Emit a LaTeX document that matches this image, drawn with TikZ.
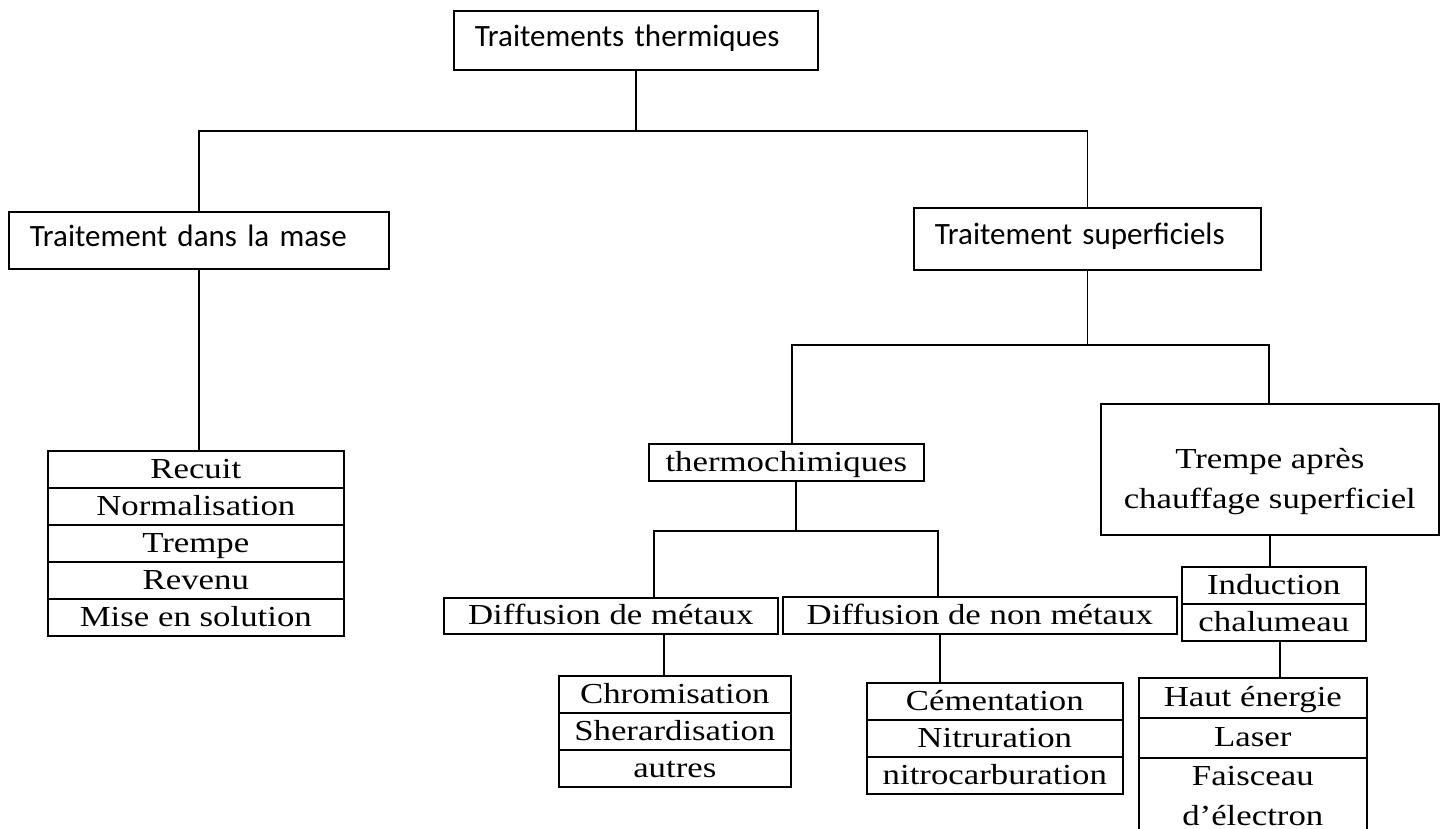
\documentclass[tikz,border=0pt]{standalone}
\usepackage{fontspec}
\newfontfamily\calfont{Carlito}
\newfontfamily\trmfont{Liberation Serif}[FakeStretch=1.2]
\begin{document}
\begin{tikzpicture}[x=1pt,y=-1pt,
  line width=1.6pt,
  headbox/.style={draw, anchor=north west, inner xsep=21pt, inner ysep=0pt,
    align=left, font=\calfont\fontsize{31}{36}\selectfont,
    text height=21pt, text depth=9pt},
  rowbase/.style={draw, anchor=north west, inner sep=0pt, align=center,
    font=\trmfont\fontsize{29}{37}\selectfont},
  rowbox/.style={rowbase, text height=23pt, text depth=5pt},
  wrap/.style={align=center, inner sep=0pt, font=\trmfont\fontsize{29}{40}\selectfont}
]
\useasboundingbox (0,0) rectangle (1448,828);

% --- top levels (sans serif boxes) ---
\node[headbox, text width=322pt, minimum height=59pt] (top) at (453,10) {Traitements thermiques};
\node[headbox, text width=338pt, minimum height=57pt] (mase) at (8,211) {Traitement dans la mase};
\node[headbox, text width=305pt, minimum height=62pt] (sup) at (913,207) {Traitement superficiels};

% --- bulk treatments ---
\node[rowbox, minimum width=296pt, minimum height=37pt] (r1) at (47,450) {Recuit};
\node[rowbox, minimum width=296pt, minimum height=37pt] (r2) at (47,487) {Normalisation};
\node[rowbox, minimum width=296pt, minimum height=37pt] (r3) at (47,524) {Trempe};
\node[rowbox, minimum width=296pt, minimum height=37pt] (r4) at (47,561) {Revenu};
\node[rowbox, minimum width=296pt, minimum height=37pt] (r5) at (47,598) {Mise en solution};

% --- surface treatments ---
\node[rowbox, minimum width=275pt, minimum height=37pt] (thermo) at (648,443) {thermochimiques};
\node[rowbase, minimum width=338pt, minimum height=131pt] (trempe) at (1100,403) {};
\node[wrap] (trempetxt) at ([yshift=-12.5pt]trempe.center) {Trempe après\\chauffage superficiel};

\node[rowbox, minimum width=334pt, minimum height=36pt] (dmet) at (443,597) {Diffusion de métaux};
\node[rowbox, minimum width=394pt, minimum height=37pt] (dnmet) at (782,596) {Diffusion de non métaux};

\node[rowbox, minimum width=232pt, minimum height=37pt] (ch1) at (558,675) {Chromisation};
\node[rowbox, minimum width=232pt, minimum height=37pt] (ch2) at (558,712) {Sherardisation};
\node[rowbox, minimum width=232pt, minimum height=37pt] (ch3) at (558,749) {autres};

\node[rowbox, minimum width=256pt, minimum height=37pt] (ce1) at (866,682) {Cémentation};
\node[rowbox, minimum width=256pt, minimum height=37pt] (ce2) at (866,719) {Nitruration};
\node[rowbox, minimum width=256pt, minimum height=37pt] (ce3) at (866,756) {nitrocarburation};

\node[rowbox, minimum width=184pt, minimum height=37pt] (in1) at (1181,566) {Induction};
\node[rowbox, minimum width=184pt, minimum height=37pt] (in2) at (1181,603) {chalumeau};

\node[rowbox, minimum width=228pt, minimum height=40pt] (he1) at (1138,677) {Haut énergie};
\node[rowbox, minimum width=228pt, minimum height=40pt] (he2) at (1138,717) {Laser};
\node[rowbase, minimum width=228pt, minimum height=82pt] (he3) at (1138,757) {};
\node[wrap] (he3txt) at ([yshift=3pt]he3.center) {Faisceau\\d’électron};

% --- junction points of the tree ---
\coordinate (bar1) at (0,131);
\coordinate (b2l) at (792,345);
\coordinate (b2r) at (1269,345);
\coordinate (b3m) at (796,531);
\coordinate (b3l) at (654,531);
\coordinate (b3r) at (938,531);
\coordinate (c5) at (664,0);
\coordinate (c6) at (940,0);
\coordinate (c8) at (1280,0);

% --- connectors ---
\draw (top.south) -- (top.south |- bar1);
\draw (mase.north) |- (sup.north |- bar1) -- (sup.north);
\draw (mase.south) -- (mase.south |- r1.north);

\draw (sup.south) -- (sup.south |- b2l);
\draw (b2l |- thermo.north) -- (b2l) -- (b2r) -- (b2r |- trempe.north);

\draw (b3m |- thermo.south) -- (b3m);
\draw (b3l |- dmet.north) -- (b3l) -- (b3r) -- (b3r |- dnmet.north);

\draw (c5 |- dmet.south) -- (c5 |- ch1.north);
\draw (c6 |- dnmet.south) -- (c6 |- ce1.north);

\draw (trempe.south) -- (trempe.south |- in1.north);
\draw (c8 |- in2.south) -- (c8 |- he1.north);
\end{tikzpicture}
\end{document}
